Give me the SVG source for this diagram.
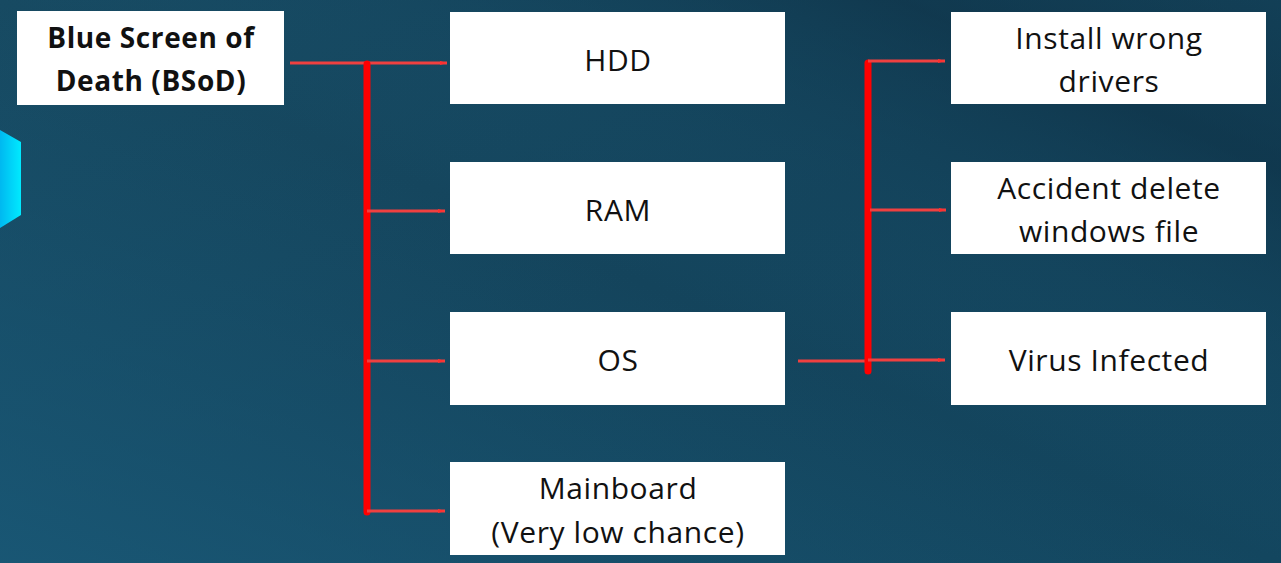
<svg xmlns="http://www.w3.org/2000/svg" width="1281" height="563" viewBox="0 0 1281 563">
<defs>
<linearGradient id="bg" x1="0" y1="0" x2="1" y2="1">
<stop offset="0" stop-color="#174a62"/>
<stop offset="0.5" stop-color="#14445c"/>
<stop offset="1" stop-color="#13465f"/>
</linearGradient>
<linearGradient id="bg2" x1="0" y1="1" x2="1" y2="0">
<stop offset="0" stop-color="#1a5b7a" stop-opacity="0.8"/>
<stop offset="0.5" stop-color="#1a5b7a" stop-opacity="0"/>
<stop offset="0.85" stop-color="#0c2c40" stop-opacity="0.5"/>
<stop offset="1" stop-color="#0c2c40" stop-opacity="0.2"/>
</linearGradient>
<linearGradient id="cyan" x1="0" y1="0" x2="1" y2="0">
<stop offset="0" stop-color="#00b8f0"/>
<stop offset="1" stop-color="#00eaff"/>
</linearGradient>
<marker id="ah" markerWidth="8" markerHeight="6" refX="7" refY="3" orient="auto" markerUnits="userSpaceOnUse">
<path d="M0,1 L7,3 L0,5 Z" fill="#ff3030"/>
</marker>
</defs>
<style>
.box{fill:#ffffff}
.t{font-family:"Open Sans",Lato,"Liberation Sans",sans-serif;font-size:30px;letter-spacing:0.6px;fill:#111111;text-anchor:middle}
.b{font-weight:bold;font-size:28px;letter-spacing:0.6px}
.thin{stroke:#f04040;stroke-width:3;fill:none}
.thick{stroke:#ff0000;stroke-width:7;fill:none;stroke-linecap:round}
</style>
<rect width="1281" height="563" fill="url(#bg)"/>
<rect width="1281" height="563" fill="url(#bg2)"/>
<path d="M0,130 L21,142 L21,215 L0,228 Z" fill="url(#cyan)"/>
<g id="connectors">
<line class="thin" x1="290" y1="63" x2="447" y2="63" marker-end="url(#ah)"/>
<line class="thick" x1="367" y1="64" x2="367" y2="512"/>
<line class="thin" x1="367" y1="211" x2="445" y2="211" marker-end="url(#ah)"/>
<line class="thin" x1="367" y1="361" x2="445" y2="361" marker-end="url(#ah)"/>
<line class="thin" x1="367" y1="511" x2="445" y2="511" marker-end="url(#ah)"/>
<line class="thin" x1="798" y1="361" x2="866" y2="361"/>
<line class="thick" x1="868" y1="63" x2="868" y2="371"/>
<line class="thin" x1="868" y1="61" x2="945" y2="61" marker-end="url(#ah)"/>
<line class="thin" x1="870" y1="210" x2="946" y2="210" stroke="#ffffff" marker-end="url(#ah)"/>
<line class="thin" x1="868" y1="360" x2="945" y2="360" marker-end="url(#ah)"/>
</g>
<g id="bsod"><rect class="box" x="17" y="11" width="267" height="94"/><text class="t b" x="151" y="48">Blue Screen of</text><text class="t b" x="151" y="91">Death (BSoD)</text></g>
<g id="hdd"><rect class="box" x="450" y="12" width="335" height="92"/><text class="t" x="618" y="71">HDD</text></g>
<g id="ram"><rect class="box" x="450" y="162" width="335" height="92"/><text class="t" x="618" y="221">RAM</text></g>
<g id="os"><rect class="box" x="450" y="312" width="335" height="93"/><text class="t" x="618" y="371">OS</text></g>
<g id="mainboard"><rect class="box" x="450" y="462" width="335" height="93"/><text class="t" x="618" y="499">Mainboard</text><text class="t" x="618" y="543">(Very low chance)</text></g>
<g id="drivers"><rect class="box" x="951" y="12" width="315" height="92"/><text class="t" x="1109" y="49">Install wrong</text><text class="t" x="1109" y="92">drivers</text></g>
<g id="delete"><rect class="box" x="951" y="162" width="315" height="92"/><text class="t" x="1109" y="199">Accident delete</text><text class="t" x="1109" y="242">windows file</text></g>
<g id="virus"><rect class="box" x="951" y="312" width="315" height="93"/><text class="t" x="1109" y="371">Virus Infected</text></g>
</svg>
